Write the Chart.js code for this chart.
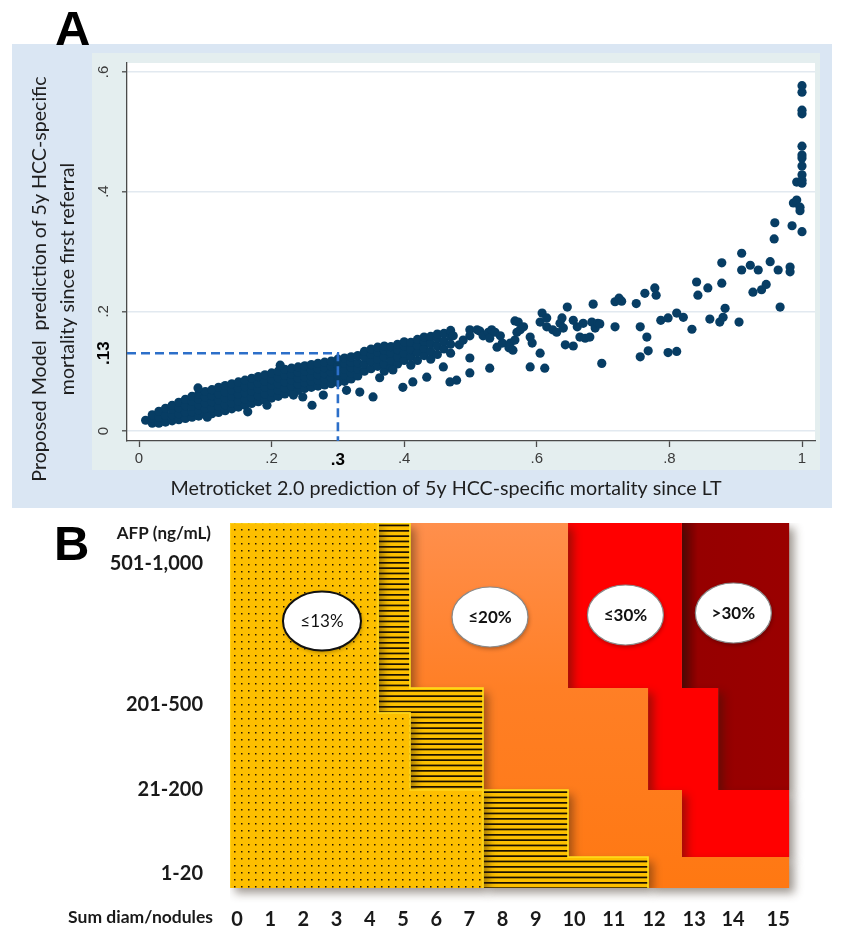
<!DOCTYPE html>
<html><head><meta charset="utf-8">
<script src="https://cdn.jsdelivr.net/npm/chart.js@4.4.1/dist/chart.umd.min.js"></script>
<style>
html,body{margin:0;padding:0;background:#fff;width:841px;height:929px;overflow:hidden;}
#wrapA{position:absolute;left:0;top:0;width:841px;height:512px;}
#wrapB{position:absolute;left:0;top:512px;width:841px;height:417px;}
canvas{display:block;}
.panel{position:absolute;font-family:"Liberation Sans",Arial,sans-serif;font-weight:bold;font-size:49px;color:#000;line-height:1;}
</style></head><body>
<div id="wrapA"><canvas id="cA" width="841" height="512"></canvas></div>
<div id="wrapB"><canvas id="cB" width="841" height="417"></canvas></div>
<div class="panel" style="left:55px;top:4px;">A</div>
<div class="panel" style="left:54px;top:519px;">B</div>
<script>
// ---------------- Panel A data ----------------
const xTitle = 'Metroticket 2.0 prediction of 5y HCC-specific mortality since LT';
const yTitleLines = ['Proposed Model  prediction of 5y HCC-specific', 'mortality since first referral'];
const xTickValues = [0, 0.2, 0.3, 0.4, 0.6, 0.8, 1];
const xTickLabels = ['0', '.2', '.3', '.4', '.6', '.8', '1'];
const yTickValues = [0, 0.13, 0.2, 0.4, 0.6];
const yTickLabels = ['0', '.13', '.2', '.4', '.6'];
const refX = 0.3, refY = 0.13;
const X_MIN = -0.0181, X_MAX = 1.0196, Y_MIN = -0.0167, Y_MAX = 0.6149;

// dense band of patients (columns of x, with y values in each column)
const coreBandX = [0.01,0.02,0.03,0.04,0.05,0.06,0.07,0.08,0.09,0.10,0.11,0.12,0.13,0.14,0.15,0.16,0.17,0.18,0.19,0.20,0.21,0.22,0.23,0.24,0.25,0.26,0.27,0.28,0.29,0.30,0.31,0.32,0.33];
const coreBandY = [
 [0.018],[0.013,0.021,0.027],[0.013,0.023,0.033],[0.015,0.026,0.038],
 [0.017,0.027,0.036,0.043],[0.019,0.029,0.039,0.048],[0.021,0.031,0.042,0.053],
 [0.023,0.032,0.041,0.050,0.058],[0.025,0.035,0.044,0.053,0.062],[0.027,0.037,0.047,0.057,0.066],
 [0.029,0.039,0.049,0.059,0.069],[0.031,0.041,0.052,0.062,0.073],[0.034,0.044,0.055,0.065,0.076],
 [0.037,0.047,0.058,0.068,0.079],[0.040,0.050,0.061,0.071,0.082],[0.043,0.053,0.064,0.074,0.085],
 [0.046,0.056,0.067,0.077,0.088],[0.049,0.059,0.070,0.080,0.091],[0.052,0.062,0.073,0.083,0.094],
 [0.055,0.065,0.076,0.086,0.097],[0.058,0.068,0.079,0.089,0.100],[0.062,0.072,0.082,0.093,0.103],
 [0.065,0.075,0.085,0.095,0.105],[0.068,0.078,0.088,0.098,0.107],[0.071,0.081,0.090,0.100,0.109],
 [0.073,0.083,0.092,0.102,0.111],[0.075,0.085,0.094,0.104,0.113],[0.077,0.087,0.096,0.106,0.115],
 [0.079,0.089,0.098,0.108,0.117],[0.081,0.091,0.101,0.110,0.120],[0.083,0.093,0.103,0.113,0.122],
 [0.087,0.097,0.106,0.115,0.124],[0.092,0.103,0.114,0.126]
];
const coreOutliers = [[0.089,0.072],[0.103,0.023],[0.164,0.032],[0.193,0.043],[0.213,0.110],[0.233,0.060],[0.247,0.057],[0.261,0.043],[0.278,0.060],[0.313,0.068]];
const midCloud = [
 [0.34,0.100],[0.34,0.112],[0.34,0.124],[0.34,0.133],
 [0.35,0.104],[0.35,0.116],[0.35,0.128],[0.35,0.137],
 [0.36,0.108],[0.36,0.120],[0.36,0.132],[0.36,0.140],
 [0.37,0.100],[0.37,0.112],[0.37,0.124],[0.37,0.135],[0.37,0.142],
 [0.38,0.106],[0.38,0.118],[0.38,0.130],[0.38,0.141],
 [0.39,0.112],[0.39,0.124],[0.39,0.136],[0.39,0.145],
 [0.40,0.118],[0.40,0.130],[0.40,0.142],[0.40,0.149],
 [0.41,0.110],[0.41,0.124],[0.41,0.136],[0.41,0.148],
 [0.42,0.118],[0.42,0.131],[0.42,0.143],[0.42,0.153],
 [0.43,0.126],[0.43,0.138],[0.43,0.150],[0.43,0.157],
 [0.44,0.120],[0.44,0.133],[0.44,0.146],[0.44,0.158],
 [0.45,0.128],[0.45,0.142],[0.45,0.155],[0.45,0.162],
 [0.46,0.137],[0.46,0.150],[0.46,0.163],
 [0.47,0.130],[0.47,0.145],[0.47,0.158],[0.47,0.168]
];
const sparseCloud = [
 [0.474,0.159],[0.483,0.144],[0.489,0.152],[0.499,0.159],[0.499,0.169],[0.510,0.169],[0.514,0.167],[0.519,0.159],
 [0.527,0.165],[0.529,0.155],[0.532,0.169],[0.537,0.165],[0.540,0.140],[0.545,0.159],[0.548,0.147],[0.558,0.139],
 [0.560,0.147],[0.564,0.135],[0.567,0.152],[0.567,0.184],[0.570,0.165],[0.572,0.182],[0.575,0.169],[0.580,0.174],
 [0.590,0.157],[0.593,0.147],[0.605,0.130],[0.605,0.182],[0.608,0.197],[0.615,0.189],[0.615,0.174],[0.624,0.169],
 [0.630,0.165],[0.635,0.180],[0.638,0.189],[0.640,0.172],[0.643,0.144],[0.646,0.207],[0.655,0.142],[0.655,0.185],
 [0.661,0.174],[0.665,0.157],[0.670,0.180],[0.673,0.155],[0.680,0.157],[0.683,0.182],[0.685,0.212],[0.688,0.172],
 [0.692,0.180],[0.695,0.179],
 [0.333,0.065],[0.353,0.057],[0.363,0.089],[0.383,0.102],[0.398,0.073],[0.413,0.082],[0.434,0.090],[0.459,0.107],
 [0.469,0.082],[0.479,0.085],[0.499,0.122],[0.499,0.097],[0.529,0.105],[0.590,0.107],[0.612,0.105],[0.698,0.113]
];
const tailPoints = [
 [0.718,0.174],[0.718,0.216],[0.724,0.222],[0.728,0.217],[0.750,0.213],[0.756,0.174],[0.756,0.124],[0.763,0.230],
 [0.766,0.157],[0.768,0.134],[0.778,0.239],[0.780,0.227],[0.787,0.185],[0.798,0.189],[0.798,0.131],[0.811,0.197],
 [0.811,0.133],[0.821,0.190],[0.834,0.170],[0.841,0.249],[0.843,0.227],[0.858,0.239],[0.861,0.187],[0.876,0.182],
 [0.879,0.247],[0.879,0.281],[0.881,0.190],[0.884,0.205],[0.905,0.182],[0.909,0.269],[0.909,0.297],[0.922,0.277],
 [0.926,0.232],[0.934,0.269],[0.939,0.236],[0.946,0.245],[0.952,0.283],[0.958,0.321],[0.959,0.348],[0.964,0.269],
 [0.967,0.207],[0.982,0.274],[0.982,0.266],[0.985,0.343],[0.987,0.381],[0.992,0.386],[0.992,0.416],[0.997,0.374],
 [0.997,0.368],[1.0,0.333],[1.0,0.414],[1.0,0.419],[1.0,0.428],[1.0,0.443],[1.0,0.456],[1.0,0.461],[1.0,0.476],
 [1.0,0.530],[1.0,0.536],[1.0,0.566],[1.0,0.577]
];

// ---------------- Panel B data ----------------
const afpTitle = 'AFP (ng/mL)';
const sumTitle = 'Sum diam/nodules';
const afpRows = ['1-20', '21-200', '201-500', '501-1,000'];
const afpLabelPos = [1.4, 9.8, 18.3, 32.4];
// horizontal bands (bottom to top) on the AFP axis; the 201-500 row has a thin top sub-band
const bandEdges = [0, 3.1, 9.8, 17.5, 20, 36.5];
const sumDiamLabels = ['0','1','2','3','4','5','6','7','8','9','10','11','12','13','14','15'];
const sumDiamPos = [0,1,2,3,4,5,6,7,8,9,10.15,11.35,12.56,13.77,14.94,16.3];
const gridStart  = [-0.21, -0.21, -0.21, -0.21, -0.21];
const dottedEnd  = [7.41, 7.41, 5.21, 4.25, 4.25];   // <=13% (dotted)
const hatchedEnd = [12.38, 9.97, 7.41, 7.41, 5.21];  // <=13% (hatched)
const le20End    = [16.63, 13.40, 12.38, 12.38, 9.97];
const le30End    = [16.63, 16.63, 14.49, 14.49, 13.40];
const gt30End    = [16.63, 16.63, 16.63, 16.63, 16.63];
const riskLabels = ['≤13%', '≤20%', '≤30%', '>30%'];
const riskLabelX = [2.56, 7.62, 11.70, 14.95];
const riskLabelY = [26.7, 27.1, 27.3, 27.5];

// ---------------- helpers ----------------
const isVal = (a, b) => Math.abs(a - b) < 1e-9;
const scatterData = [];
coreBandX.forEach((x, i) => coreBandY[i].forEach(y => scatterData.push({x, y})));
[...coreOutliers, ...midCloud, ...sparseCloud, ...tailPoints].forEach(([x, y]) => scatterData.push({x, y}));

const panelAPlugin = {
  id: 'panelA',
  beforeDraw(chart) {
    const {ctx, chartArea: a} = chart;
    ctx.save();
    ctx.fillStyle = '#dae6f3';
    ctx.fillRect(12, 44, 820, 464);
    ctx.fillStyle = '#e4eeef';
    ctx.fillRect(a.left - 35, a.top - 10, a.right - a.left + 40, a.bottom - a.top + 39);
    ctx.fillStyle = '#ffffff';
    ctx.fillRect(a.left, a.top, a.right - a.left, a.bottom - a.top);
    ctx.restore();
  },
  afterDraw(chart) {
    const {ctx, chartArea: a} = chart;
    const ys = chart.scales.y;
    ctx.save();
    yTickValues.forEach((v, i) => {
      const y = ys.getPixelForValue(v);
      const ref = isVal(v, refY);
      ctx.save();
      ctx.translate(a.left - 23, y);
      ctx.rotate(-Math.PI / 2);
      ctx.textAlign = 'center';
      ctx.textBaseline = 'middle';
      ctx.fillStyle = ref ? '#000' : '#3a3a3a';
      ctx.font = ref ? 'bold 17px "Liberation Sans", Arial' : '15px "Liberation Sans", Arial';
      ctx.fillText(yTickLabels[i], 0, 0);
      ctx.restore();
    });
    ctx.fillStyle = '#1e1e1e';
    ctx.font = '19.7px Lato, "Open Sans", sans-serif';
    ctx.textAlign = 'center';
    ctx.textBaseline = 'middle';
    ctx.fillText(xTitle, 446, 489);
    const cy = (a.top + a.bottom) / 2 + 27;
    ctx.font = '19.6px Lato, "Open Sans", sans-serif';
    [40, 68].forEach((x, i) => {
      ctx.save();
      ctx.translate(x, cy);
      ctx.rotate(-Math.PI / 2);
      ctx.fillText(yTitleLines[i], 0, 0);
      ctx.restore();
    });
    ctx.restore();
  }
};

new Chart(document.getElementById('cA'), {
  type: 'scatter',
  data: {
    datasets: [
      {
        data: [{x: X_MIN, y: refY}, {x: refX, y: refY}, {x: refX, y: Y_MIN}],
        showLine: true, borderColor: '#2c6fc9', borderWidth: 2.6, borderDash: [9, 5],
        pointRadius: 0, fill: false, clip: 4
      },
      {
        data: scatterData, pointRadius: 4.6, pointHoverRadius: 4.6,
        pointBackgroundColor: '#073d64', pointBorderColor: '#073d64', pointBorderWidth: 0,
        backgroundColor: '#073d64', borderColor: '#073d64'
      }
    ]
  },
  options: {
    responsive: false, animation: false, devicePixelRatio: 1,
    layout: {padding: {left: 0, right: 26, top: 63, bottom: 0}},
    plugins: {legend: {display: false}, tooltip: {enabled: false}},
    scales: {
      x: {
        type: 'linear', min: X_MIN, max: X_MAX,
        afterBuildTicks: s => { s.ticks = xTickValues.map(v => ({value: v})); },
        afterFit: s => { s.height = 71; s.paddingLeft = 0; s.paddingRight = 0; },
        border: {display: true, color: '#4a4a4a', width: 1.3},
        grid: {drawOnChartArea: false, drawTicks: true, tickLength: 6, tickWidth: 1.3,
               tickColor: c => (c.tick && isVal(c.tick.value, refX)) ? 'rgba(0,0,0,0)' : '#4a4a4a'},
        ticks: {
          autoSkip: false, maxRotation: 0, minRotation: 0, padding: 3,
          callback: (v, i) => xTickLabels[i],
          color: c => (c.tick && isVal(c.tick.value, refX)) ? '#000' : '#3a3a3a',
          font: c => (c.tick && isVal(c.tick.value, refX)) ? {family: '"Liberation Sans", Arial', size: 17, weight: 'bold'} : {family: '"Liberation Sans", Arial', size: 15}
        }
      },
      y: {
        type: 'linear', min: Y_MIN, max: Y_MAX,
        afterBuildTicks: s => { s.ticks = yTickValues.map(v => ({value: v})); },
        afterFit: s => { s.width = 127; s.paddingTop = 0; s.paddingBottom = 0; },
        border: {display: true, color: '#4a4a4a', width: 1.3},
        grid: {
          color: c => (c.tick && isVal(c.tick.value, refY)) ? 'rgba(0,0,0,0)' : '#e2e9f0',
          lineWidth: 1.6, drawTicks: true, tickLength: 5, tickWidth: 1.3,
          tickColor: c => (c.tick && isVal(c.tick.value, refY)) ? 'rgba(0,0,0,0)' : '#4a4a4a'
        },
        ticks: {display: false}
      }
    }
  },
  plugins: [panelAPlugin]
});

// ---------------- Panel B ----------------
function makePattern(kind) {
  const c = document.createElement('canvas');
  if (kind === 'dots') {
    c.width = 7; c.height = 7;
    const g = c.getContext('2d');
    g.fillStyle = '#fdbf00'; g.fillRect(0, 0, 7, 7);
    g.fillStyle = '#2a1a00';
    g.fillRect(3, 3, 1.5, 1.5);
  } else {
    c.width = 8; c.height = 16;
    const g = c.getContext('2d');
    g.fillStyle = '#fdc000'; g.fillRect(0, 0, 8, 16);
    g.fillStyle = '#1a1000';
    g.fillRect(0, 2, 8, 1.7); g.fillRect(0, 7.3, 8, 1.7); g.fillRect(0, 12.6, 8, 1.7);
  }
  return document.getElementById('cB').getContext('2d').createPattern(c, 'repeat');
}
function stepPolygon(leftArr, rightArr) {
  const n = bandEdges.length - 1;
  const pts = [];
  for (let r = 0; r < n; r++) {
    pts.push({x: rightArr[r], y: bandEdges[r]});
    pts.push({x: rightArr[r], y: bandEdges[r + 1]});
  }
  for (let r = n - 1; r >= 0; r--) {
    pts.push({x: leftArr[r], y: bandEdges[r + 1]});
    pts.push({x: leftArr[r], y: bandEdges[r]});
  }
  return pts;
}
const orangeFill = c => {
  const ch = c.chart;
  if (!ch.chartArea) return '#ff7f22';
  const y0 = ch.scales.y.getPixelForValue(bandEdges[bandEdges.length - 1]);
  const y1 = ch.scales.y.getPixelForValue(bandEdges[0]);
  const g = ch.ctx.createLinearGradient(0, y0, 0, y1);
  g.addColorStop(0, '#ff8f4c'); g.addColorStop(0.45, '#ff7f26'); g.addColorStop(1, '#ff7812');
  return g;
};
const darkRedFill = c => {
  const ch = c.chart;
  if (!ch.chartArea) return '#970000';
  const x0 = ch.scales.x.getPixelForValue(le30End[4]);
  const x1 = ch.scales.x.getPixelForValue(gt30End[4]);
  const g = ch.ctx.createLinearGradient(x0, 0, x1, 0);
  g.addColorStop(0, '#640000'); g.addColorStop(0.15, '#960000'); g.addColorStop(1, '#9a0000');
  return g;
};
const regionStyle = {fill: 'shape', pointRadius: 0, tension: 0};
const datasetsB = [
  Object.assign({label: '≤13% dotted', data: stepPolygon(gridStart, dottedEnd), backgroundColor: makePattern('dots'),
                 borderWidth: 1.6, borderColor: '#ffd61c'}, regionStyle),
  Object.assign({label: '≤13% hatched', data: stepPolygon(dottedEnd, hatchedEnd), backgroundColor: makePattern('lines'),
                 borderWidth: 1.6, borderColor: '#ffe01c'}, regionStyle),
  Object.assign({label: '≤20%', data: stepPolygon(hatchedEnd, le20End), backgroundColor: orangeFill,
                 borderWidth: 1, borderColor: 'rgba(0,0,0,0)'}, regionStyle),
  Object.assign({label: '≤30%', data: stepPolygon(le20End, le30End), backgroundColor: '#ff0000',
                 borderWidth: 1, borderColor: 'rgba(0,0,0,0)'}, regionStyle),
  Object.assign({label: '>30%', data: stepPolygon(le30End, gt30End), backgroundColor: darkRedFill,
                 borderWidth: 1, borderColor: 'rgba(0,0,0,0)'}, regionStyle)
];

const setShadow = (c, on) => {
  c.shadowColor = on ? 'rgba(40,25,10,0.45)' : 'rgba(0,0,0,0)';
  c.shadowBlur = on ? 10 : 0; c.shadowOffsetX = on ? 5 : 0; c.shadowOffsetY = on ? 5 : 0;
};
const panelBPlugin = {
  id: 'panelB',
  beforeDatasetsDraw(chart) { chart.ctx.save(); setShadow(chart.ctx, true); },
  beforeDatasetDraw(chart) { setShadow(chart.ctx, false); },   // fill (filler) already drawn with shadow
  afterDatasetDraw(chart) { setShadow(chart.ctx, true); },
  afterDatasetsDraw(chart) { chart.ctx.restore(); },
  afterDraw(chart) {
    const {ctx, chartArea: a} = chart;
    const xs = chart.scales.x, ys = chart.scales.y;
    ctx.save();
    riskLabels.forEach((t, i) => {
      const x = xs.getPixelForValue(riskLabelX[i]);
      const y = ys.getPixelForValue(riskLabelY[i]);
      const rx = i === 0 ? 39 : 38, ry = i === 0 ? 29.5 : 30;
      ctx.save();
      ctx.shadowColor = 'rgba(0,0,0,0.3)'; ctx.shadowBlur = 4; ctx.shadowOffsetX = 1; ctx.shadowOffsetY = 2;
      ctx.beginPath();
      ctx.ellipse(x, y, rx, ry, 0, 0, Math.PI * 2);
      ctx.fillStyle = '#ffffff';
      ctx.fill();
      ctx.restore();
      ctx.beginPath();
      ctx.ellipse(x, y, rx, ry, 0, 0, Math.PI * 2);
      ctx.lineWidth = i === 0 ? 2 : 1.2;
      ctx.strokeStyle = i === 0 ? '#111' : '#8a8a8a';
      ctx.stroke();
      ctx.fillStyle = '#111';
      ctx.font = (i === 0 ? '' : 'bold ') + '17px Lato, "Open Sans", sans-serif';
      ctx.textAlign = 'center'; ctx.textBaseline = 'middle';
      ctx.fillText(t, x, y + 1);
    });
    ctx.fillStyle = '#1a1a1a';
    ctx.textAlign = 'right'; ctx.textBaseline = 'middle';
    ctx.font = 'bold 17px Lato, "Open Sans", sans-serif';
    ctx.fillText(afpTitle, a.left - 19, a.top + 11);
    ctx.font = 'bold 17.5px Lato, "Open Sans", sans-serif';
    ctx.fillText(sumTitle, a.left - 17, a.bottom + 12);
    ctx.restore();
  }
};

new Chart(document.getElementById('cB'), {
  type: 'line',
  data: {datasets: datasetsB},
  options: {
    responsive: false, animation: false, devicePixelRatio: 1,
    layout: {padding: {left: 110, right: 11, top: 11, bottom: 0}},
    plugins: {legend: {display: false}, tooltip: {enabled: false}, filler: {propagate: false}},
    scales: {
      x: {
        type: 'linear', min: -0.21, max: 17.86,
        afterBuildTicks: s => { s.ticks = sumDiamPos.map(v => ({value: v})); },
        afterFit: s => { s.height = 24; s.paddingLeft = 0; s.paddingRight = 0; },
        border: {display: false}, grid: {display: false},
        ticks: {autoSkip: false, maxRotation: 0, minRotation: 0, padding: -5,
                callback: (v, i) => sumDiamLabels[i], color: '#1a1a1a',
                font: {family: 'Lato, "Open Sans", sans-serif', size: 20, weight: 'bold'}}
      },
      y: {
        type: 'linear', min: -1.7, max: 36.5,
        afterBuildTicks: s => { s.ticks = afpLabelPos.map(v => ({value: v})); },
        afterFit: s => { s.width = 120; s.paddingTop = 0; s.paddingBottom = 0; },
        border: {display: false}, grid: {display: false},
        ticks: {autoSkip: false, padding: 19, callback: (v, i) => afpRows[i], color: '#1a1a1a',
                font: {family: 'Lato, "Open Sans", sans-serif', size: 20, weight: 'bold'}}
      }
    }
  },
  plugins: [panelBPlugin]
});
</script>
</body></html>
